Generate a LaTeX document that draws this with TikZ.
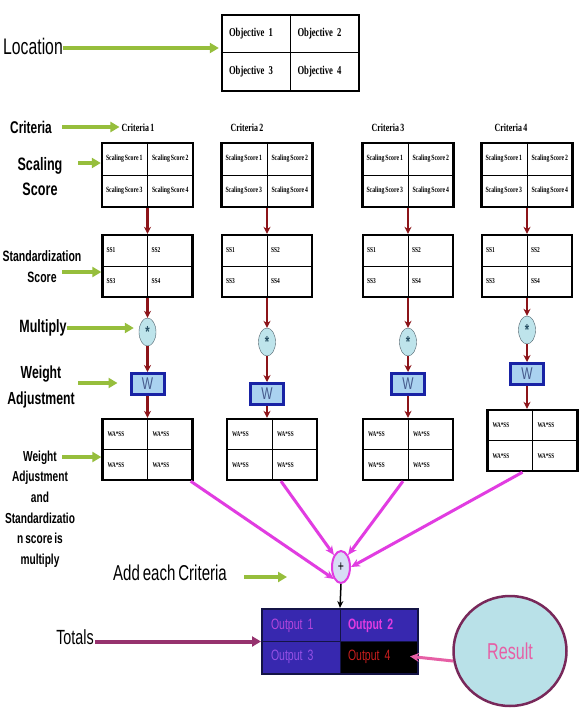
\documentclass[tikz,border=0pt]{standalone}
\usepackage{fontspec}
\setmainfont{Liberation Serif}
\newfontfamily\narrowsans[FakeStretch=0.7, WordSpace=0.7]{Liberation Sans}
\newfontfamily\narrowserif[FakeStretch=0.72, WordSpace=0.7]{Liberation Serif}
\usetikzlibrary{positioning, arrows.meta, matrix, shapes.geometric}
\definecolor{limearrow}{RGB}{150,190,60}
\definecolor{darkred}{RGB}{140,20,25}
\definecolor{magline}{RGB}{225,60,225}
\definecolor{totline}{RGB}{150,50,110}
\definecolor{resline}{RGB}{230,95,165}
\definecolor{multfill}{RGB}{190,228,235}
\definecolor{multdraw}{RGB}{80,100,110}
\definecolor{wblue}{RGB}{25,35,165}
\definecolor{wfill}{RGB}{170,210,240}
\definecolor{outblue}{RGB}{55,40,175}
\definecolor{outnavy}{RGB}{20,20,70}
\definecolor{resfill}{RGB}{185,225,232}
\definecolor{resdraw}{RGB}{120,40,90}
\definecolor{plusfill}{RGB}{215,222,245}
\tikzset{
  grid/.style={
    matrix of nodes,
    draw,
    line width=2.4pt,
    inner sep=0pt,
    column sep=0pt,
    row sep=0pt
  },
  objgrid/.style={grid, nodes={anchor=center, minimum height=38pt, text width=54.5pt, inner xsep=7pt, align=left, font=\narrowserif\bfseries\fontsize{12}{13}\selectfont}},
  scgrid/.style={grid, nodes={anchor=center, minimum height=32pt, minimum width=45.5pt, inner sep=1pt, align=center, font=\narrowserif\bfseries\fontsize{8}{9}\selectfont}},
  ssgrid/.style={grid, nodes={anchor=center, minimum height=31pt, text width=37pt, inner xsep=4pt, align=left, font=\narrowserif\bfseries\fontsize{7.5}{8}\selectfont}},
  wagrid/.style={grid, nodes={anchor=center, minimum height=30.5pt, text width=35pt, inner xsep=5pt, align=left, font=\narrowserif\bfseries\fontsize{7.2}{8}\selectfont}},
  outgrid/.style={grid, draw=outnavy, fill=outblue, line width=2pt, inner sep=1pt,
    nodes={anchor=center, fill=outblue, minimum height=31.5pt, text width=61pt, inner xsep=8pt, align=left, font=\narrowsans\fontsize{15}{16}\selectfont}},
  divider/.style={line width=1pt},
  critlabel/.style={inner sep=2pt, font=\narrowserif\bfseries\fontsize{11}{12}\selectfont},
  leftlabel/.style={align=center, inner sep=1pt},
  multnode/.style={ellipse, draw=multdraw, fill=multfill, minimum width=17pt, minimum height=28pt, inner sep=0pt,
    text={rgb,255:red,40;green,80;blue,100}, font=\narrowsans\bfseries\fontsize{16}{16}\selectfont},
  wnode/.style={draw=wblue, line width=3pt, fill=wfill, minimum width=33pt, minimum height=21pt, inner sep=0pt,
    text={rgb,255:red,70;green,90;blue,140}, font=\narrowsans\fontsize{17}{17}\selectfont},
  plusnode/.style={ellipse, draw=magline, line width=2pt, fill=plusfill, minimum width=18pt, minimum height=32pt, inner sep=0pt,
    font=\narrowsans\fontsize{15}{15}\selectfont},
  greenarrow/.style={draw=limearrow, line width=4pt, -{Triangle[length=9pt,width=10pt]}},
  redarrow/.style={draw=darkred, line width=2.8pt, -{Stealth[length=7pt,width=7pt]}},
  magarrow/.style={draw=magline, line width=3pt, -{Stealth[length=9pt,width=8pt]}}
}
\begin{document}
\begin{tikzpicture}[x=1pt, y=-1pt]
  \path[fill=white] (0,0) rectangle (580,717);
  \useasboundingbox (0,0) rectangle (580,717);

  % left labels
  \node[leftlabel, font=\narrowsans\fontsize{22.5}{22}\selectfont] (loclab) at (33,46) {Location};
  \node[leftlabel, font=\narrowsans\bfseries\fontsize{17}{17}\selectfont] (critlab) at (31,127) {Criteria};
  \node[leftlabel, font=\narrowsans\bfseries\fontsize{18}{25}\selectfont] (scllab) at (40,177) {Scaling\\Score};
  \node[leftlabel, font=\narrowsans\bfseries\fontsize{15}{21}\selectfont] (stdlab) at (42,267) {Standardization\\Score};
  \node[leftlabel, font=\narrowsans\bfseries\fontsize{17.8}{18}\selectfont] (mullab) at (43,328) {Multiply};
  \node[leftlabel, font=\narrowsans\bfseries\fontsize{17.5}{26}\selectfont] (wgtlab) at (41,387) {Weight\\Adjustment};
  \node[leftlabel, font=\narrowsans\bfseries\fontsize{14.5}{20.6}\selectfont] (walab) at (40,509) {Weight\\Adjustment\\and\\Standardizatio\\n score is\\multiply};
  \node[leftlabel, font=\narrowsans\fontsize{21.5}{22}\selectfont] (addlab) at (170,573) {Add each Criteria};
  \node[leftlabel, font=\narrowsans\fontsize{20.5}{21}\selectfont] (totlab) at (75,637) {Totals};

  % location table
  \matrix[objgrid] (obj) at (290.5,53) {Objective 1 & Objective 2\\ Objective 3 & Objective 4\\};

  % one column per criteria
  \foreach \i/\cx/\my/\wy/\wax/\way/\lx in {1/147.5/332/384/147.5/449.5/138, 2/267/342/394/272/449.5/247,
      3/408/342/384/408/449.5/388, 4/527/330/374/532.5/440.5/511}{
    \node[critlabel] (crit\i) at (\lx,128) {Criteria \i};
    \matrix[scgrid, ampersand replacement=\&] (sc\i) at (\cx,175)
      {Scaling Score 1 \& Scaling Score 2\\ Scaling Score 3 \& Scaling Score 4\\};
    \matrix[ssgrid, ampersand replacement=\&] (ss\i) at (\cx,266) {SS1 \& SS2\\ SS3 \& SS4\\};
    \node[multnode] (mul\i) at (\cx,\my) {*};
    \node[wnode] (w\i) at (\cx,\wy) {W};
    \matrix[wagrid, ampersand replacement=\&] (wa\i) at (\wax,\way) {WA*SS \& WA*SS\\ WA*SS \& WA*SS\\};
    \draw[redarrow] (sc\i.south) -- (ss\i.north);
    \draw[redarrow] (ss\i.south) -- (mul\i.north);
    \draw[redarrow] (mul\i.south) -- (w\i.north);
    \draw[redarrow] (w\i.south) -- (w\i.south |- wa\i.north);
  }
  \foreach \t in {obj, sc1, sc2, sc3, sc4, ss1, ss2, ss3, ss4, wa1, wa2, wa3, wa4}
    \draw[divider] (\t.north) -- (\t.south) (\t.west) -- (\t.east);

  % adding and totals
  \node[plusnode] (plus) at (341,567) {+};
  \matrix[outgrid] (out) at (340,641.5) {
    |[text={rgb,255:red,180;green,70;blue,220}]| Output 1 &
    |[text=magline, font=\narrowsans\bfseries\fontsize{15}{16}\selectfont]| Output 2\\
    |[text={rgb,255:red,150;green,80;blue,230}]| Output 3 &
    |[fill=black, text={rgb,255:red,200;green,30;blue,30}]| Output 4\\};
  \draw[divider, draw=outnavy] (out.north) -- (out.south) (out.west) -- (out.east);
  \node[ellipse, draw=resdraw, line width=2.5pt, fill=resfill, minimum width=113pt, minimum height=110pt,
    text=resline, font=\narrowsans\fontsize{23}{23}\selectfont] (res) at (510,651) {Result};

  % green pointers
  \coordinate (locstart) at (63,48);
  \coordinate (critstart) at (62,127);
  \coordinate (sclstart) at (78,163);
  \coordinate (stdstart) at (62,272);
  \coordinate (mulstart) at (67,328);
  \coordinate (wgtstart) at (78,383);
  \coordinate (wastart) at (62,457);
  \coordinate (addstart) at (244,577);
  \coordinate (addtip) at (287,577);
  \draw[greenarrow, shorten >=2pt] (locstart) -- (locstart -| obj.west);
  \draw[greenarrow] (critstart) -- (critstart -| crit1.west);
  \draw[greenarrow] (sclstart) -- (sclstart -| sc1.west);
  \draw[greenarrow] (stdstart) -- (stdstart -| ss1.west);
  \draw[greenarrow, shorten >=5pt] (mulstart) -- (mulstart -| mul1.west);
  \draw[greenarrow, shorten >=12pt] (wgtstart) -- (wgtstart -| w1.west);
  \draw[greenarrow] (wastart) -- (wastart -| wa1.west);
  \draw[greenarrow] (addstart) -- (addtip);

  % sums
  \draw[magarrow] ([xshift=-3pt]wa1.south east) -- (plus.south west);
  \draw[magarrow] ([xshift=9pt]wa2.south) -- (plus.north west);
  \draw[magarrow] ([xshift=-5pt]wa3.south) -- (plus.north east);
  \draw[magarrow] ([xshift=-10pt]wa4.south) -- (plus.east);
  \draw[line width=1.5pt, -{Stealth[length=7pt,width=6pt]}] (plus.south) -- (out.north);
  \draw[draw=totline, line width=4pt, -{Triangle[length=9pt,width=10pt]}] (totlab.east |- out.west) -- (out.west);
  \draw[draw=resline, line width=3pt, -{Stealth[length=9pt,width=9pt]}, shorten >=-8pt] (res.190) -- (out-2-2.east);
\end{tikzpicture}
\end{document}
